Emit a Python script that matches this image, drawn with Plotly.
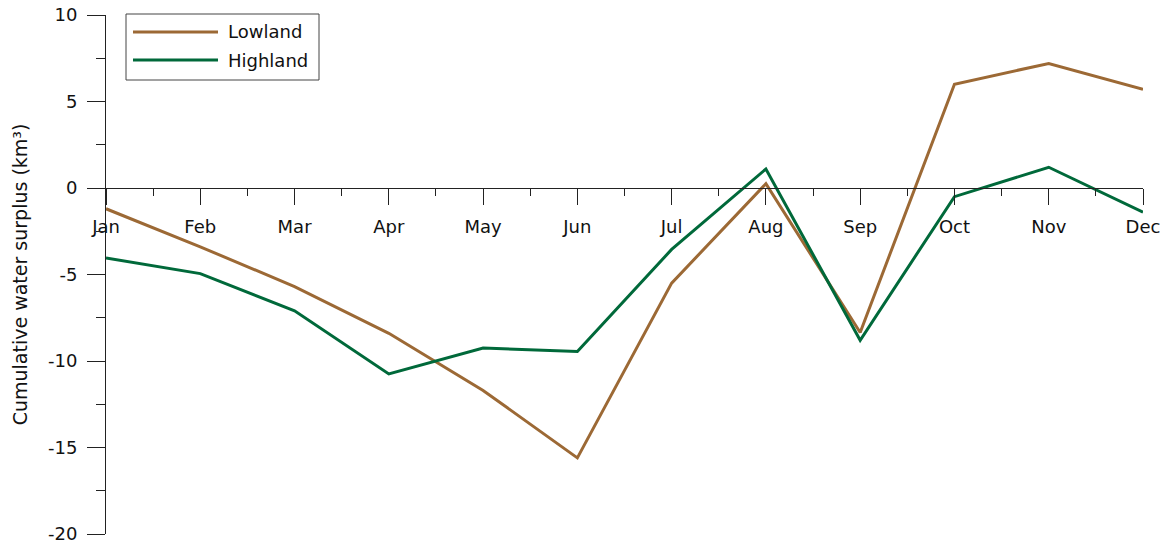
import plotly.graph_objects as go

# Monthly cumulative water surplus (km³)
months = ["Jan", "Feb", "Mar", "Apr", "May", "Jun",
          "Jul", "Aug", "Sep", "Oct", "Nov", "Dec"]
lowland = [-1.2, -3.4, -5.7, -8.4, -11.7, -15.6, -5.5, 0.25, -8.35, 6.0, 7.2, 5.7]
highland = [-4.05, -4.95, -7.1, -10.75, -9.25, -9.45, -3.55, 1.1, -8.8, -0.5, 1.2, -1.4]

y_ticks = [-20, -15, -10, -5, 0, 5, 10]
y_tick_labels = ["-20", "-15", "-10", "-5", "0", "5", "10"]

series_names = ["Lowland", "Highland"]
series_colors = ["#9c6935", "#00693a"]

W, H = 1170, 544
ML, MR, MT, MB = 106, 27, 15, 10
PW, PH = W - ML - MR, H - MT - MB

FONT = "DejaVu Sans, Verdana, sans-serif"
AXIS_COLOR = "#222222"

x = list(range(len(months)))

fig = go.Figure()
for name, vals, col in zip(series_names, [lowland, highland], series_colors):
    fig.add_trace(go.Scatter(
        x=x, y=vals, name=name, mode="lines",
        line=dict(color=col, width=3),
        showlegend=False,
    ))

Y_MIN, Y_MAX = y_ticks[0], y_ticks[-1]

fig.update_layout(
    width=W, height=H,
    margin=dict(l=ML, r=MR, t=MT, b=MB, autoexpand=False),
    paper_bgcolor="white", plot_bgcolor="white",
    font=dict(family=FONT, size=18, color="#111111"),
    xaxis=dict(
        range=[0, len(months) - 1],
        anchor="free",
        position=(0 - Y_MIN) / (Y_MAX - Y_MIN),
        showline=True, linecolor=AXIS_COLOR, linewidth=1,
        showgrid=False, zeroline=False,
        tickmode="array", tickvals=x, ticktext=months,
        ticks="outside", ticklen=16, tickwidth=1, tickcolor=AXIS_COLOR,
        ticklabelstandoff=6,
        ticklabeloverflow="allow",
        minor=dict(dtick=0.5, tick0=0, ticks="outside", ticklen=7,
                   tickwidth=1, tickcolor=AXIS_COLOR),
        automargin=False,
        tickfont=dict(size=18),
    ),
    yaxis=dict(
        range=[Y_MIN, Y_MAX],
        showline=True, linecolor=AXIS_COLOR, linewidth=1,
        showgrid=False, zeroline=False,
        tickmode="array", tickvals=y_ticks, ticktext=y_tick_labels,
        ticks="outside", ticklen=18, tickwidth=1, tickcolor=AXIS_COLOR,
        ticklabelstandoff=6,
        ticklabeloverflow="allow",
        minor=dict(dtick=2.5, tick0=0, ticks="outside", ticklen=9,
                   tickwidth=1, tickcolor=AXIS_COLOR),
        title=dict(text="Cumulative water surplus (km³)",
                   font=dict(size=19), standoff=15),
        automargin=False,
        tickfont=dict(size=18),
    ),
)


def px_x(p):
    return (p - ML) / PW


def px_y(p):
    return (H - MB - p) / PH


# Legend box with long line keys
fig.add_shape(type="rect", xref="paper", yref="paper",
              x0=px_x(126), x1=px_x(319), y0=px_y(80), y1=px_y(14),
              line=dict(color="#444444", width=1), fillcolor="white", layer="above")
for i, (name, col) in enumerate(zip(series_names, series_colors)):
    yy = px_y(32 + 28 * i)
    fig.add_shape(type="line", xref="paper", yref="paper",
                  x0=px_x(133), x1=px_x(218), y0=yy, y1=yy,
                  line=dict(color=col, width=3), layer="above")
    fig.add_annotation(xref="paper", yref="paper", x=px_x(226), y=yy,
                       xanchor="left", yanchor="middle", showarrow=False,
                       text=name, font=dict(size=18, family=FONT, color="#111111"))

fig.write_html("out.html")
